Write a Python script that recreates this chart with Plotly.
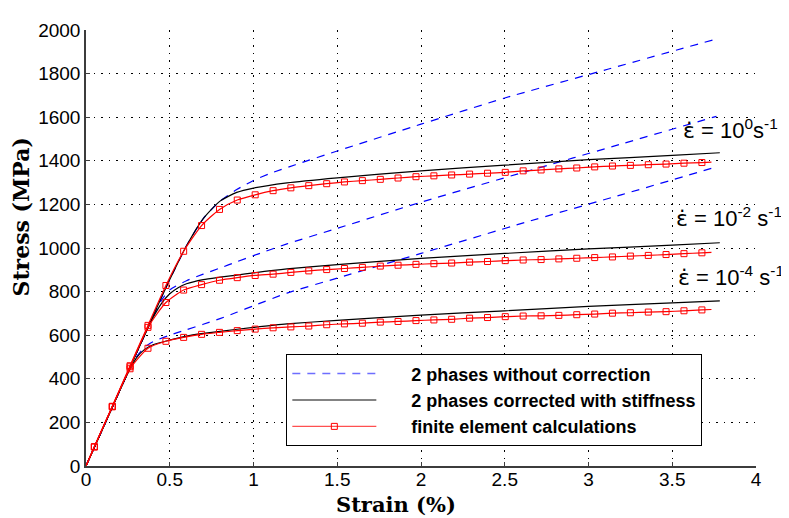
import plotly.graph_objects as go

# ---------------- data ----------------
# Blue dashed: 2 phases without correction
blue_s0_strain = [0, 0.1, 0.2, 0.3, 0.4, 0.5, 0.6, 0.7, 0.8, 0.9, 1.0, 1.1, 1.25, 1.5, 2.0, 2.5, 3.12, 3.764]
blue_s0_stress = [0, 172, 344, 516, 688, 855, 1010, 1135, 1215, 1268, 1310, 1342, 1382, 1445, 1568, 1688, 1821, 1959]
blue_s2_strain = [0, 0.1, 0.2, 0.3, 0.4, 0.45, 0.5, 0.6, 0.7, 0.8, 0.9, 1.0, 1.2, 1.5, 2.0, 2.62, 3.2, 3.764]
blue_s2_stress = [0, 172, 344, 516, 685, 760, 808, 850, 880, 908, 937, 965, 1019, 1090, 1210, 1349, 1478, 1604]
blue_s4_strain = [0, 0.1, 0.2, 0.25, 0.3, 0.35, 0.4, 0.5, 0.6, 0.7, 0.8, 0.9, 1.0, 1.2, 1.5, 2.0, 2.62, 3.2, 3.764]
blue_s4_stress = [0, 172, 344, 428, 500, 545, 570, 600, 625, 650, 676, 705, 735, 793, 862, 975, 1117, 1245, 1372]

# Black solid: 2 phases corrected with stiffness
black_s0_strain = [0, 0.1, 0.2, 0.3, 0.4, 0.5, 0.6, 0.7, 0.8, 0.9, 1.0, 1.2, 1.5, 2.0, 2.5, 3.0, 3.5, 3.784]
black_s0_stress = [0, 172, 344, 516, 688, 855, 1010, 1135, 1215, 1255, 1275, 1299, 1322, 1354, 1380, 1405, 1425, 1437]
black_s2_strain = [0, 0.1, 0.2, 0.3, 0.4, 0.45, 0.5, 0.55, 0.6, 0.7, 0.8, 0.9, 1.0, 1.2, 1.5, 2.0, 2.5, 3.0, 3.5, 3.784]
black_s2_stress = [0, 172, 344, 516, 680, 745, 790, 818, 836, 855, 866, 876, 886, 904, 924, 952, 975, 996, 1013, 1024]
black_s4_strain = [0, 0.1, 0.2, 0.25, 0.3, 0.35, 0.4, 0.5, 0.6, 0.7, 0.8, 1.0, 1.2, 1.5, 2.0, 2.5, 3.0, 3.5, 3.784]
black_s4_stress = [0, 172, 344, 425, 495, 535, 556, 578, 596, 608, 618, 636, 652, 668, 692, 712, 732, 748, 757]

# Red: finite element calculations (marker positions)
fe_strain = [0.05, 0.157, 0.263, 0.37, 0.477, 0.583, 0.69, 0.797, 0.903, 1.01, 1.117, 1.223,
             1.33, 1.437, 1.543, 1.65, 1.757, 1.863, 1.97, 2.077, 2.183, 2.29, 2.397, 2.503,
             2.61, 2.717, 2.823, 2.93, 3.037, 3.143, 3.25, 3.357, 3.463, 3.57, 3.677]
fe_s0_stress = [88, 274, 460, 645, 828, 985, 1103, 1177, 1220, 1244, 1263, 1276,
                1286, 1295, 1303, 1309, 1315, 1321, 1327, 1331, 1335, 1339, 1343, 1347,
                1354, 1358, 1363, 1367, 1372, 1376, 1379, 1382, 1385, 1389, 1392]
fe_s2_stress = [88, 272, 455, 636, 750, 807, 832, 852, 864, 874, 880, 888,
                895, 901, 906, 911, 917, 921, 925, 928, 931, 935, 938, 942,
                945, 947, 950, 953, 956, 959, 963, 966, 970, 974, 978]
fe_s4_stress = [88, 272, 446, 540, 572, 590, 604, 613, 621, 628, 634, 638,
                642, 648, 652, 655, 660, 663, 667, 670, 673, 678, 681, 685,
                688, 689, 691, 694, 697, 701, 703, 706, 708, 712, 716]
fe_line_start = (0, 0)
fe_line_end_strain = 3.734
fe_line_end_stress = [1394, 980, 718]

x_ticks = [0, 0.5, 1, 1.5, 2, 2.5, 3, 3.5, 4]
x_ticklabels = ["0", "0.5", "1", "1.5", "2", "2.5", "3", "3.5", "4"]
y_ticks = [0, 200, 400, 600, 800, 1000, 1200, 1400, 1600, 1800, 2000]

EPS = '<span style="font-family:DejaVu Sans">ε̇</span>'
labels = [
    (EPS + " = 10<sup>0</sup>s<sup>-1</sup>", 3.55, 1548),
    (EPS + " = 10<sup>-2</sup> s<sup>-1</sup>", 3.51, 1142),
    (EPS + " = 10<sup>-4</sup> s<sup>-1</sup>", 3.525, 873),
]

NB = "\u00a0" * 6
LEG_BLUE = NB + "2 phases without correction"
LEG_BLACK = NB + "2 phases corrected with stiffness"
LEG_RED = NB + "finite element calculations"

# ---------------- figure ----------------
fig = go.Figure()

BLUE = "rgb(0,0,255)"
RED = "rgb(255,0,0)"

for sx, sy in [(blue_s0_strain, blue_s0_stress), (blue_s2_strain, blue_s2_stress),
               (blue_s4_strain, blue_s4_stress)]:
    fig.add_trace(go.Scatter(x=sx, y=sy, mode="lines", showlegend=False,
                             line=dict(color=BLUE, width=1.2, dash="8px,7px",
                                       shape="spline", smoothing=0.6)))

for sx, sy in [(black_s0_strain, black_s0_stress), (black_s2_strain, black_s2_stress),
               (black_s4_strain, black_s4_stress)]:
    fig.add_trace(go.Scatter(x=sx, y=sy, mode="lines", showlegend=False,
                             line=dict(color="black", width=1.2, shape="spline", smoothing=0.6)))

for sy, yend in [(fe_s0_stress, fe_line_end_stress[0]), (fe_s2_stress, fe_line_end_stress[1]),
                 (fe_s4_stress, fe_line_end_stress[2])]:
    fig.add_trace(go.Scatter(x=[fe_line_start[0]] + fe_strain + [fe_line_end_strain],
                             y=[fe_line_start[1]] + sy + [yend],
                             mode="lines", showlegend=False,
                             line=dict(color=RED, width=1.2, shape="spline", smoothing=0.6)))
    fig.add_trace(go.Scatter(x=fe_strain, y=sy, mode="markers", showlegend=False,
                             marker=dict(symbol="square-open", size=6, color=RED,
                                         line=dict(width=1, color=RED))))

# legend-only entries
fig.add_trace(go.Scatter(x=[None], y=[None], mode="lines", name=LEG_BLUE,
                         line=dict(color="rgb(110,110,255)", width=1.5, dash="8px,7px")))
fig.add_trace(go.Scatter(x=[None], y=[None], mode="lines", name=LEG_BLACK,
                         line=dict(color="rgb(90,90,90)", width=1.5)))
fig.add_trace(go.Scatter(x=[None], y=[None], mode="lines+markers", name=LEG_RED,
                         line=dict(color="rgb(255,80,80)", width=1.2),
                         marker=dict(symbol="square-open", size=6, color=RED)))

for text, xv, yv in labels:
    fig.add_annotation(x=xv, y=yv, xref="x", yref="y", text=text, showarrow=False,
                       xanchor="left", yanchor="middle",
                       font=dict(family="Liberation Sans, Arial", size=22, color="black"))

fig.add_annotation(x=-0.097, y=0.57, xref="paper", yref="paper", text="<b>Stress (MPa)</b>",
                   textangle=-90, showarrow=False, xanchor="center", yanchor="middle",
                   font=dict(family="DejaVu Serif", size=22, color="black"))
fig.add_annotation(x=0.463, y=-0.088, xref="paper", yref="paper", text="<b>Strain (%)</b>",
                   showarrow=False, xanchor="center", yanchor="middle",
                   font=dict(family="DejaVu Serif", size=21, color="black"))

grid = dict(showgrid=True, gridcolor="black", gridwidth=1, griddash="1.5px,6px",
            zeroline=False, showline=True, linecolor="rgb(60,60,60)", linewidth=1.5,
            ticks="inside", ticklen=4, tickcolor="rgb(60,60,60)",
            tickfont=dict(family="Liberation Sans, Arial", size=19, color="black"))

fig.update_xaxes(range=[0, 4], tickvals=x_ticks, ticktext=x_ticklabels,
                 ticklabelstandoff=-5, **grid)
fig.update_yaxes(range=[0, 2000], tickvals=y_ticks, **grid)

fig.update_layout(
    width=789, height=518,
    margin=dict(l=78, r=41, t=13, b=60),
    plot_bgcolor="white", paper_bgcolor="white",
    legend=dict(x=0.299, y=0.256, xanchor="left", yanchor="top",
                bgcolor="white", bordercolor="black", borderwidth=1,
                itemwidth=84, tracegroupgap=0,
                font=dict(family="Liberation Sans, Arial", size=18, color="black",
                          weight="bold")),
)

fig.write_html("out.html")
